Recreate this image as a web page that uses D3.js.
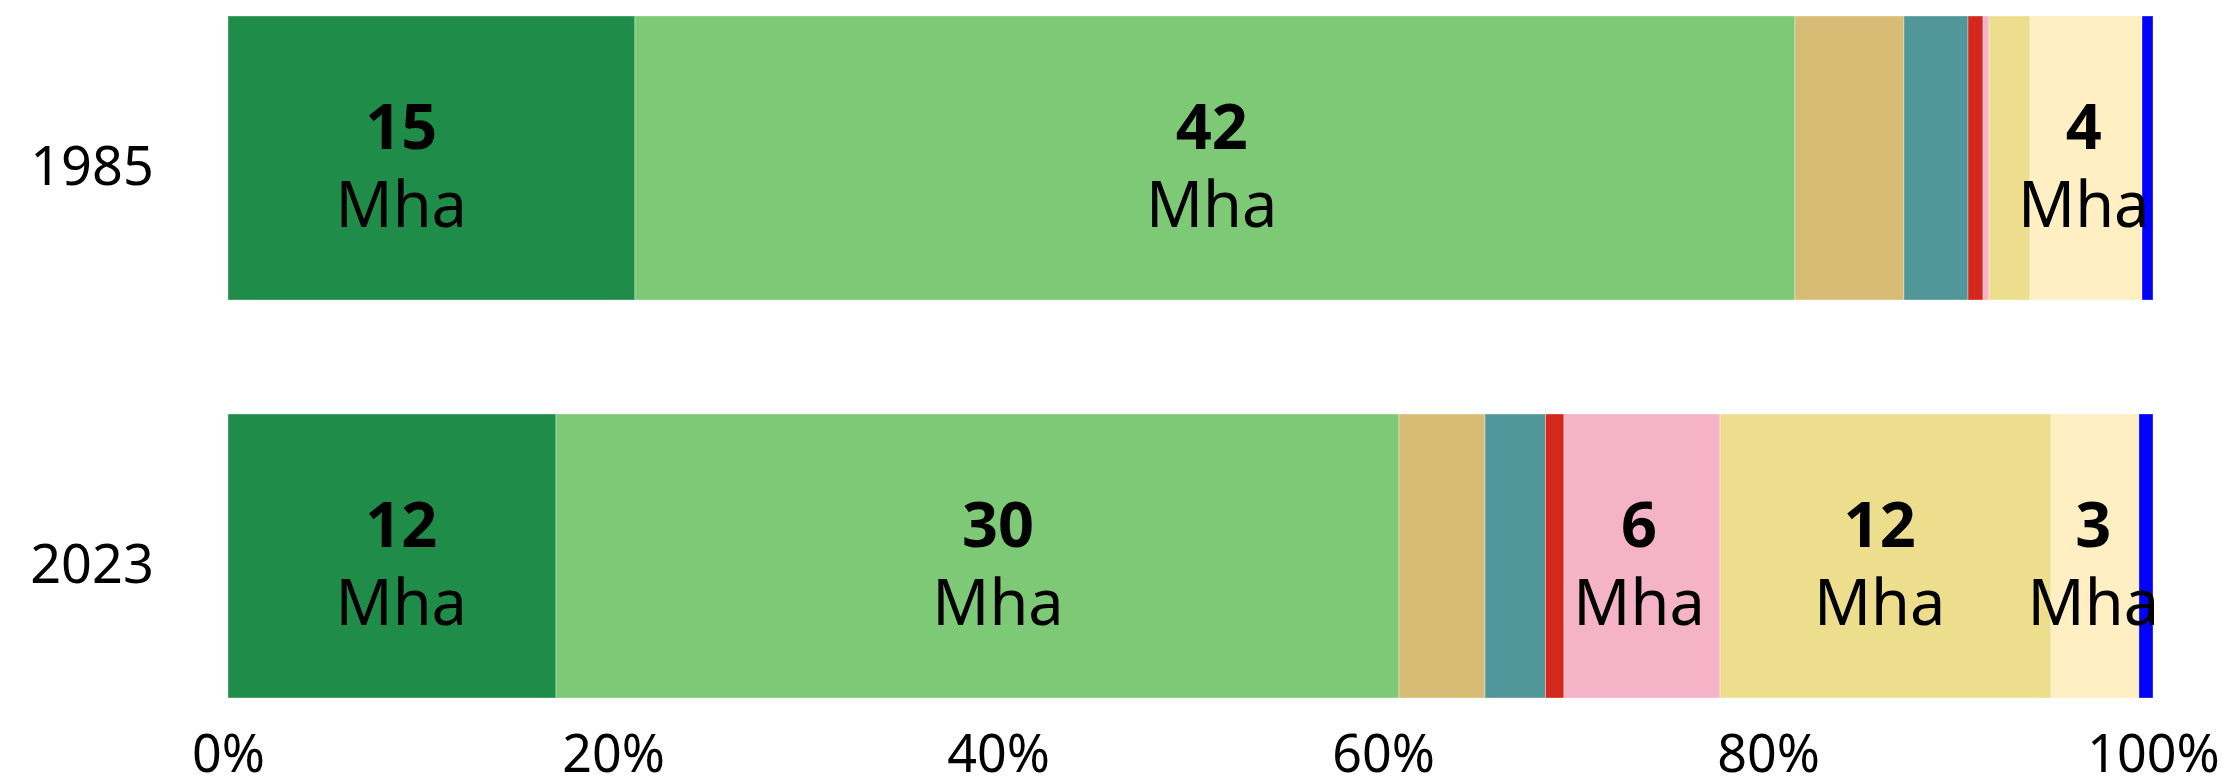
<!DOCTYPE html>
<html>
<head>
<meta charset="utf-8">
<script src="https://cdn.jsdelivr.net/npm/d3@7"></script>
<style>
  html, body { margin: 0; padding: 0; background: #fff; }
  svg { display: block; font-family: "Noto Sans", sans-serif; }
</style>
</head>
<body>
<svg id="chart" width="2223" height="777"></svg>
<script>
const years = ['1985', '2023'];
const classes = ['Forest formation', 'Savanna formation', 'Grassland', 'Wetland', 'Urban area',
  'Soybean', 'Pasture', 'Mosaic of uses', 'Water'];

// share of the total area, %
const share1985 = [21.14, 60.26, 5.66, 3.33, 0.78, 0.31, 2.13, 5.82, 0.57];
const share2023 = [17.04, 43.79, 4.47, 3.14, 0.96, 8.11, 17.19, 4.57, 0.73];

// labelled areas in Mha (null = no label) and where each label sits, in % of the bar
const mha1985 = [15, 42, null, null, null, null, null, 4, null];
const mha2023 = [12, 30, null, null, null, 6, 12, 3, null];
const labelAt1985 = [9, 51.1, null, null, null, null, null, 96.4, null];
const labelAt2023 = [9, 40, null, null, null, 73.3, 85.8, 96.9, null];

const ticks = [0, 20, 40, 60, 80, 100];

const palette = ['#1f8d49', '#7dc975', '#d6bc74', '#519799', '#d4271e',
  '#f5b3c8', '#edde8e', '#ffefc3', '#0000ff'];

const shares = [share1985, share2023];
const mha = [mha1985, mha2023];
const labelAt = [labelAt1985, labelAt2023];

const rows = years.map((year, i) => {
  const row = { year };
  classes.forEach((c, j) => { row[c] = shares[i][j]; });
  return row;
});

const series = d3.stack().keys(classes)(rows);

const svg = d3.select('#chart');

const x = d3.scaleLinear().domain([0, 100]).range([228, 2153]);
const y = d3.scaleBand().domain(years).range([16, 698]).paddingInner(0.2864);
const color = d3.scaleOrdinal().domain(classes).range(palette);

// stacked segments
svg.append('g')
  .selectAll('g')
  .data(series)
  .join('g')
  .attr('fill', (d) => color(d.key))
  .selectAll('rect')
  .data((d) => d)
  .join('rect')
  .attr('x', (d) => x(d[0]))
  .attr('y', (d) => y(d.data.year))
  .attr('width', (d) => x(d[1]) - x(d[0]))
  .attr('height', y.bandwidth())
  .attr('stroke', 'rgba(255,255,255,0.35)')
  .attr('stroke-width', 1);

// value labels
const labels = [];
years.forEach((year, i) => {
  mha[i].forEach((v, j) => {
    if (v !== null) labels.push({ year, value: v, at: labelAt[i][j] });
  });
});

const lab = svg.append('g')
  .selectAll('g')
  .data(labels)
  .join('g')
  .attr('transform', (d) => `translate(${x(d.at)},${y(d.year)})`)
  .attr('text-anchor', 'middle')
  .attr('fill', '#000');

lab.append('text')
  .attr('y', 133)
  .attr('font-size', 63)
  .attr('font-weight', 700)
  .text((d) => d.value);

lab.append('text')
  .attr('y', 211)
  .attr('font-size', 63)
  .text('Mha');

// year axis
const yAxis = svg.append('g')
  .attr('transform', `translate(${x(0)},0)`)
  .call(d3.axisLeft(y).tickSize(0));
yAxis.select('.domain').remove();
yAxis.attr('font-family', null).attr('font-size', 54);
yAxis.selectAll('text')
  .attr('x', -136)
  .attr('y', 27)
  .attr('dy', 0)
  .attr('text-anchor', 'middle')
  .attr('fill', '#000');

// percent axis
const xAxis = svg.append('g')
  .call(d3.axisBottom(x).tickValues(ticks).tickFormat((d) => d + '%').tickSize(0));
xAxis.select('.domain').remove();
xAxis.attr('font-family', null).attr('font-size', 52);
xAxis.selectAll('text')
  .attr('y', 772)
  .attr('dy', 0)
  .attr('fill', '#000');
</script>
</body>
</html>
